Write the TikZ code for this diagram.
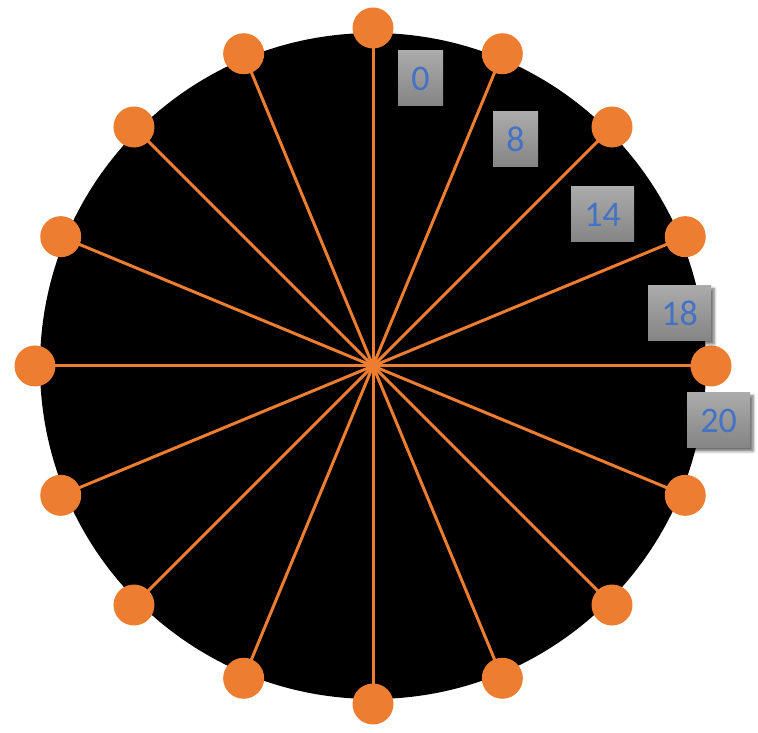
\documentclass[tikz,border=0pt]{standalone}
\usepackage{fontspec}
\setmainfont{Carlito}
\usetikzlibrary{shadows.blur,calc}
\definecolor{dotorange}{HTML}{ED7D31}
\definecolor{labblue}{HTML}{4472C4}
\definecolor{gtop}{HTML}{ABABAB}
\definecolor{gbot}{HTML}{848484}
\begin{document}
\begin{tikzpicture}[x=1pt,y=1pt,
  dot/.style={circle,fill=dotorange,draw=none,minimum size=41pt,inner sep=0pt},
  spoke/.style={draw=dotorange,line width=3pt},
  lab/.style={rectangle,draw=none,top color=gtop,bottom color=gbot,text=labblue,
    font=\fontsize{36}{36}\selectfont,inner sep=0pt,minimum height=55pt,
    blur shadow={shadow xshift=3pt,shadow yshift=-3pt,shadow blur radius=3pt,shadow opacity=60}},
  lab1/.style={lab,minimum width=45pt},
  lab2/.style={lab,minimum width=63pt}]
\useasboundingbox (0,0) rectangle (758,732);
\fill[black] (373,366) circle (333);
\coordinate (c) at (373,366);
\foreach \k in {0,...,15}{
  \coordinate (p\k) at ($(c)+({90-22.5*\k}:338)$);
}
\foreach \k in {0,...,15}{
  \draw[spoke] (c) -- (p\k);
}
\foreach \k in {0,...,15}{
  \node[dot] (d\k) at (p\k) {};
}
\node[lab1] (l0) at (420.5,653.5) {0};
\node[lab1] (l8) at (515.5,592.5) {8};
\node[lab2] (l14) at (602.5,517.5) {14};
\node[lab2] (l18) at (679.5,418.5) {18};
\node[lab2] (l20) at (718.5,311.5) {20};
\end{tikzpicture}
\end{document}
